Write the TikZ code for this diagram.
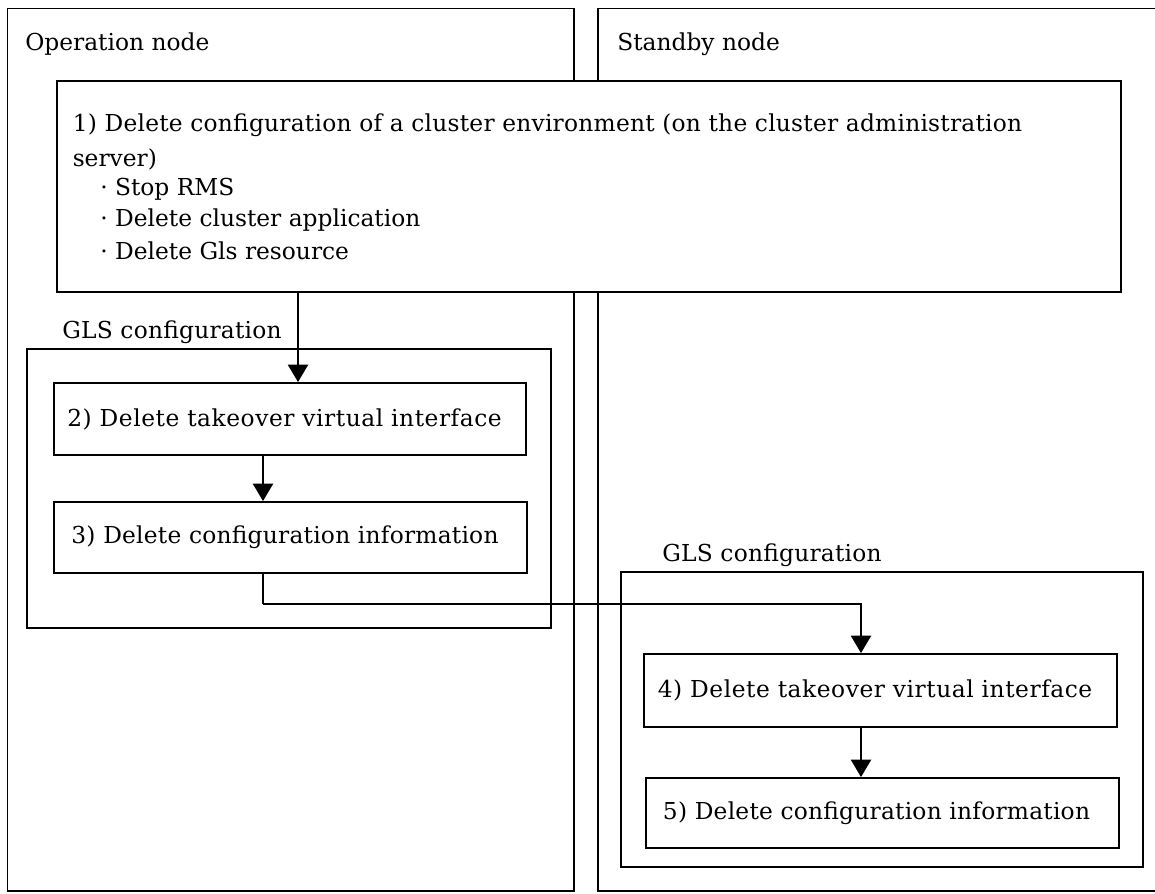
\documentclass[tikz,border=0pt]{standalone}
\usepackage{fontspec}
\setmainfont{DejaVu Serif}
\usetikzlibrary{arrows.meta,fit,calc}
\newfontfamily\boxfontA{DejaVu Serif}[LetterSpace=2.3]
\newfontfamily\boxfontB{DejaVu Serif}[LetterSpace=1.0]
\begin{document}
\begin{tikzpicture}[x=0.75pt,y=-0.75pt,
  frame/.style={draw, line width=1.4pt, inner sep=0pt, rectangle},
  lbl/.style={anchor=west, inner sep=0pt, font=\fontsize{17.5}{20}\selectfont},
  txt/.style={inner sep=0pt, font=\fontsize{17.5}{20}\selectfont},
  arr/.style={line width=1.5pt, -{Triangle[length=13pt,width=15pt]}},
  conn/.style={line width=1.5pt}
  ]
\useasboundingbox (0,0) rectangle (1155,893);
\clip (0,0) rectangle (1155,893);
% outer node frames
\node[frame, fit={(7.5,8.5) (574,891)}] (op) {};
\node[frame, fit={(598,8.5) (1175,891)}] (sb) {};
\node[lbl] (oplbl) at (25,44) {Operation node};
\node[lbl] (sblbl) at (617,44) {Standby node};
% step 1
\node[frame, fill=white, fit={(57,81) (1121,292)}] (b1) {};
\node[lbl] (t1a) at (72.5,125) {\boxfontB 1) Delete configuration of a cluster environment (on the cluster administration};
\node[lbl] (t1b) at (72.5,159) {server)};
\node[lbl] (t1c) at (100,189) {· Stop RMS};
\node[lbl] (t1d) at (100,220) {· Delete cluster application};
\node[lbl] (t1e) at (100,251) {· Delete Gls resource};
% GLS configuration (operation)
\node[lbl] (g1lbl) at (62,332) {\boxfontB GLS configuration};
\node[frame, fit={(27,349) (551,628)}] (g1) {};
\node[frame, fit={(54,383) (526,455)}] (b2) {};
\node[frame, fit={(54,502) (527,573)}] (b3) {};
\node[txt] (t2) at ($(b2.center)+(-5.5,0)$) {\boxfontA 2) Delete takeover virtual interface};
\node[txt] (t3) at ($(b3.center)+(-5.5,0)$) {\boxfontB 3) Delete configuration information};
% GLS configuration (standby)
\node[lbl] (g2lbl) at (662,555) {\boxfontB GLS configuration};
\node[frame, fit={(621,572) (1143,867)}] (g2) {};
\node[frame, fit={(644,654) (1117,727)}] (b4) {};
\node[frame, fit={(646,778) (1119,848)}] (b5) {};
\node[txt] (t4) at ($(b4.center)+(-5.5,0)$) {\boxfontA 4) Delete takeover virtual interface};
\node[txt] (t5) at ($(b5.center)+(-6,0)$) {\boxfontB 5) Delete configuration information};
% connectors
\coordinate (xa) at (298,0);
\coordinate (xb) at (263,0);
\coordinate (xc) at (861,0);
\coordinate (bend) at (263,604);
\draw[arr] (b1.south -| xa) -- (b2.north -| xa);
\draw[arr] (b2.south -| xb) -- (b3.north -| xb);
\draw[conn] (b3.south -| xb) -- (bend);
\draw[arr] (bend) -- (bend -| xc) -- (b4.north -| xc);
\draw[arr] (b4.south -| xc) -- (b5.north -| xc);
\end{tikzpicture}
\end{document}
